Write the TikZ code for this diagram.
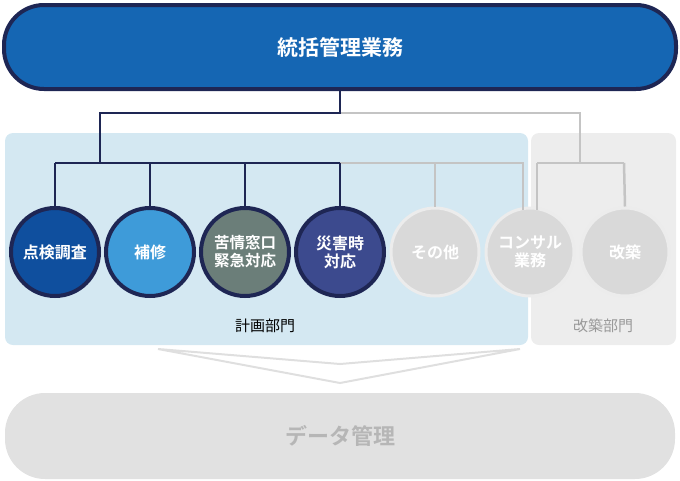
\documentclass[tikz,border=0pt]{standalone}
\usepackage{fontspec}
\setmainfont{Noto Sans CJK JP}
\newfontfamily\jpb{Noto Sans CJK JP Bold}
\definecolor{navy}{HTML}{1E2654}
\definecolor{topblue}{HTML}{1566B3}
\definecolor{c1}{HTML}{0F4F9E}
\definecolor{c2}{HTML}{3E9BD9}
\definecolor{c3}{HTML}{6B7E79}
\definecolor{c4}{HTML}{3C4A8E}
\definecolor{lb}{HTML}{D4E8F2}
\definecolor{lg}{HTML}{EDEDED}
\definecolor{gc}{HTML}{D9D9D9}
\definecolor{gl}{HTML}{C4C4C4}
\begin{document}
\begin{tikzpicture}[x=1pt,y=-1pt,
  circ/.style={circle,minimum size=88pt,inner sep=0pt,line width=4pt,draw=navy,text=white,font=\jpb\fontsize{16}{18}\selectfont,align=center},
  gcirc/.style={circ,fill=gc,draw=gc!50!white,line width=3pt},
  nl/.style={navy,line width=2.5pt},
  gline/.style={gl,line width=2.5pt}]
\useasboundingbox (0,0) rectangle (680,480);
\fill[lb,rounded corners=8pt] (5,133) rectangle (528,345);
\fill[lg,rounded corners=8pt] (531,133) rectangle (676,345);
\node[draw=navy,line width=4pt,fill=topblue,rounded corners=40pt,minimum width=672pt,minimum height=84pt,text=white,font=\jpb\fontsize{21}{24}\selectfont] (top) at (340,47) {統括管理業務};
\node[fill=gc!80!white,rounded corners=40pt,minimum width=670pt,minimum height=86pt,text=gl!80!gray,font=\jpb\fontsize{22}{24}\selectfont] (data) at (340,436) {データ管理};
\node[circ,fill=c1] (a) at (55,252) {点検調査};
\node[circ,fill=c2] (b) at (150,252) {補修};
\node[circ,fill=c3,font=\jpb\fontsize{15.5}{18}\selectfont] (c) at (245,252) {苦情窓口\\緊急対応};
\node[circ,fill=c4] (d) at (340,252) {災害時\\対応};
\node[gcirc] (e) at (435,252) {その他};
\node[gcirc] (f) at (530,252) {コンサル\\業務};
\node[gcirc] (g) at (625,252) {改築};
\node[font=\fontsize{15}{17}\selectfont] (p1) at (265,326) {計画部門};
\node[font=\fontsize{15}{17}\selectfont,text=gray!80] (p2) at (603,326) {改築部門};
\coordinate (j) at (340,113);
\coordinate (jl) at (100,113);
\coordinate (jr) at (580,113);
\draw[gline] (j) -- (jr) -- (580,163);
\draw[gline] (537,163) -- (624,163);
\draw[gline] (537,163) -- (537,210);
\draw[gline] (624,163) -- (g.north);
\draw[gline] (340,163) -- (523,163) -- (523,210);
\draw[gline] (435,163) -- (e.north);
\draw[nl] (top.south) -- (j) -- (jl) -- (100,163);
\draw[nl] (55,163) -- (340,163);
\draw[nl] (55,163) -- (a.north);
\draw[nl] (150,163) -- (b.north);
\draw[nl] (245,163) -- (c.north);
\draw[nl] (340,163) -- (d.north);
\draw[gc!85!white,line width=2pt,line join=miter] (158,349) -- (340,364) -- (520,349) -- (340,383) -- cycle;
\end{tikzpicture}
\end{document}
